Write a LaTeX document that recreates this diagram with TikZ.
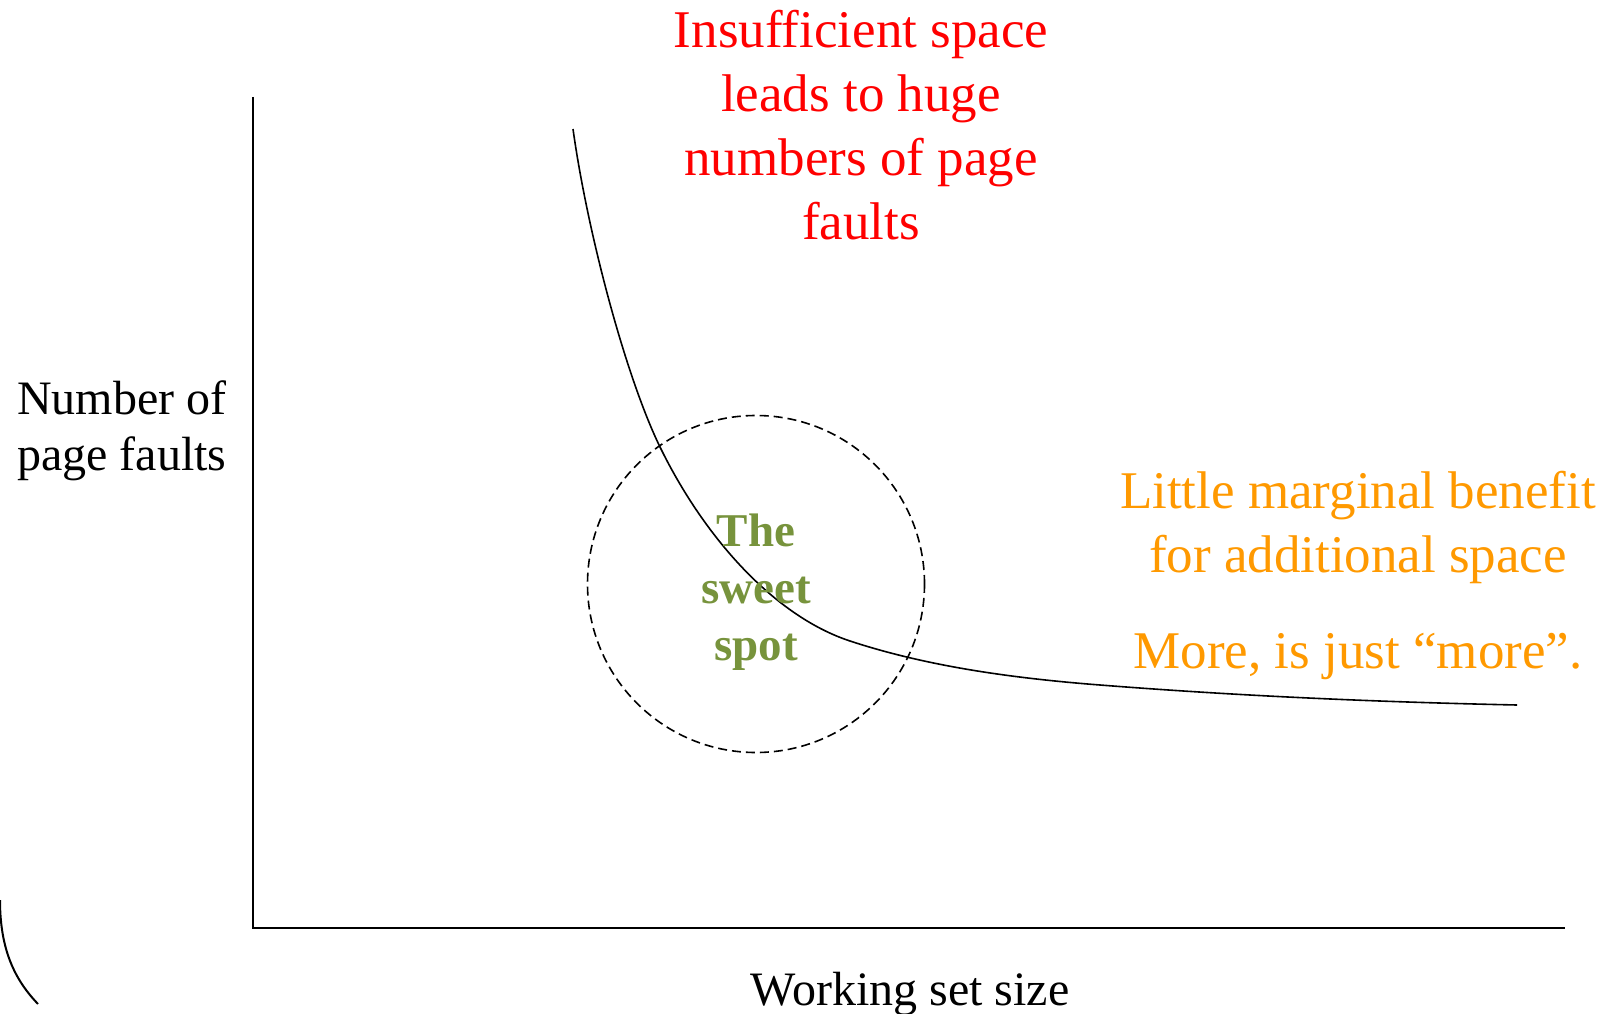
\documentclass[tikz,border=0pt]{standalone}
\usepackage{fontspec}
\setmainfont{Liberation Serif}
\definecolor{redtxt}{RGB}{255,0,0}
\definecolor{orangetxt}{RGB}{255,153,0}
\definecolor{greentxt}{RGB}{119,147,60}
\tikzset{
  axisline/.style={line width=2pt, black},
  curveline/.style={line width=1.6pt, black, line join=round},
  spotcircle/.style={line width=1.6pt, black, dash pattern=on 9pt off 5pt},
  bigtext/.style={inner sep=0pt, align=center, font=\fontsize{53}{64}\selectfont},
  labeltext/.style={inner sep=0pt, font=\fontsize{48}{56}\selectfont},
}
\begin{document}
\begin{tikzpicture}[x=1pt,y=-1pt]
\useasboundingbox (0,0) rectangle (1606,1014);
% axes
\coordinate (ytop) at (253,97);
\coordinate (origin) at (253,928);
\coordinate (xend) at (1565,928);
\draw[axisline] (ytop) -- (origin) -- (xend);
% stray arc at bottom-left
\coordinate (arcA) at (0,900);
\coordinate (arcB) at (38,1004);
\draw[line width=2pt] (arcA) .. controls (0,950) and (15,980) .. (arcB);
% page fault curve
\coordinate (c0) at (573,129);
\coordinate (c1) at (660,447);
\coordinate (c2) at (850,641);
\coordinate (c3) at (1100,685);
\coordinate (c4) at (1517,705);
\draw[curveline] (c0) .. controls (587,230) and (625,375) .. (c1)
  .. controls (704,537) and (774,616) .. (c2)
  .. controls (926,666) and (1010,678) .. (c3)
  .. controls (1240,696) and (1377,702) .. (c4);
% sweet spot circle
\node[spotcircle, draw, circle, minimum size=337pt, inner sep=0pt] (circ) at (756,584) {};
% texts
\node[bigtext, text=redtxt, anchor=base] (insuff) at (861,239)
  {Insufficient space\\leads to huge\\numbers of page\\faults};
\node[labeltext, align=left, anchor=base west] (ylabel) at (17,470)
  {Number of\\page faults};
\node[labeltext, anchor=base] (xlabel) at (910,1005) {Working set size};
\node[bigtext, text=orangetxt, anchor=base] (little) at (1358,668)
  {Little marginal benefit\\for additional space\\[32pt]More, is just “more”.};
\node[inner sep=0pt, align=center, font=\fontsize{47}{57}\selectfont\bfseries, text=greentxt, anchor=base] (sweet) at (756,660)
  {The\\sweet\\spot};
\end{tikzpicture}
\end{document}
